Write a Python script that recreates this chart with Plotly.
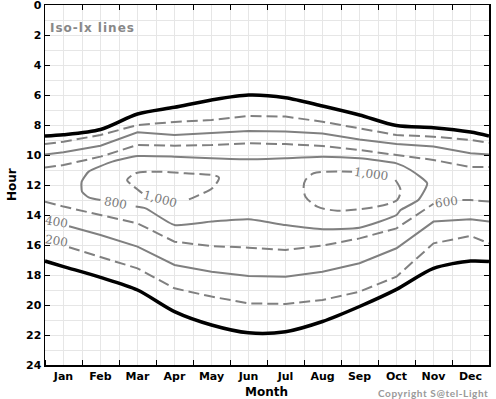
import plotly.graph_objects as go

# ---------------- data ----------------
months = ["Jan", "Feb", "Mar", "Apr", "May", "Jun", "Jul", "Aug", "Sep", "Oct", "Nov", "Dec"]
month_centers = [i + 0.5 for i in range(12)]
month_edges = list(range(13))
# month positions: year start, mid-months, year end
xm = [0, 0.5, 1.5, 2.5, 3.5, 4.5, 5.5, 6.5, 7.5, 8.5, 9.5, 10.5, 11.5, 12]

sunrise = [8.73, 8.65, 8.3, 7.27, 6.82, 6.33, 6.0, 6.18, 6.73, 7.33, 8.04, 8.18, 8.47, 8.73]
sunset = [17.07, 17.44, 18.16, 19.0, 20.44, 21.33, 21.85, 21.78, 21.1, 20.1, 18.96, 17.56, 17.07, 17.1]

lx200_am = [9.27, 9.11, 8.67, 8.0, 7.8, 7.67, 7.4, 7.44, 7.78, 8.22, 8.67, 8.78, 9.0, 9.18]
lx400_am = [9.96, 9.82, 9.38, 8.49, 8.67, 8.51, 8.4, 8.44, 8.56, 8.96, 9.27, 9.44, 9.89, 9.96]
lx600_am = [10.84, 10.67, 10.11, 9.33, 9.38, 9.33, 9.22, 9.27, 9.4, 9.67, 10.0, 10.33, 10.8, 10.8]

lx200_pm_x = [0.65, 1.5, 2.5, 3.5, 4.5, 5.5, 6.5, 7.5, 8.5, 9.5, 10.5, 11.5, 12]
lx200_pm = [16.15, 16.78, 17.56, 18.89, 19.44, 19.89, 19.93, 19.67, 19.11, 18.11, 15.89, 15.4, 15.89]
lx400_pm_x = [0.65, 1.5, 2.5, 3.5, 4.5, 5.5, 6.5, 7.5, 8.5, 9.5, 10.5, 11.5, 12]
lx400_pm = [14.75, 15.33, 16.11, 17.33, 17.78, 18.07, 18.11, 17.78, 17.22, 16.22, 14.44, 14.29, 14.44]
lx600_pm_x = [0, 0.5, 1.5, 2.5, 3.5, 4.5, 5.5, 6.5, 7.5, 8.5, 9.5, 10.5, None, 11.28, 11.5, 12]
lx600_pm = [13.11, 13.44, 14.0, 14.56, 15.78, 16.07, 16.18, 16.33, 16.04, 15.56, 14.89, 13.25, None, 13.0, 13.0, 13.1]

lx800_x = [2.45, 2.72, 3.5, 4.5, 5.5, 6.5, 7.5, 8.5, 9.5, 9.61, 10.09, 10.33, 9.88, 9.5, 8.5, 7.5,
           6.5, 5.5, 4.5, 3.5, 2.5, 1.82, 1.18, 0.99, 1.0, 1.18, 1.5]
lx800_y = [13.44, 13.56, 14.67, 14.44, 14.29, 14.67, 14.95, 14.85, 14.0, 13.67, 13.0, 11.89, 11.0, 10.56,
           10.22, 10.11, 10.22, 10.29, 10.22, 10.11, 10.07, 10.44, 11.11, 11.78, 12.44, 12.82, 13.0]

lx1000a_x = [3.89, 4.16, 4.52, 4.70, 3.80, 2.90, 2.45, 2.22, 2.4, 2.63]
lx1000a_y = [12.96, 12.67, 12.22, 11.49, 11.22, 11.11, 11.22, 11.67, 12.1, 12.55]
lx1000b_x = [9.47, 9.61, 9.52, 8.98, 7.9, 7.36, 7.04, 6.99, 7.04, 7.26, 8.3]
lx1000b_y = [11.67, 12.33, 13.0, 13.44, 13.71, 13.44, 12.78, 12.11, 11.67, 11.22, 11.11]

label_text = ["1,000", "1,000", "800", "600", "400", "200"]
label_x = [3.1, 8.8, 1.9, 10.86, 0.31, 0.31]
label_y = [12.93, 11.27, 13.23, 13.13, 14.47, 15.73]
label_angle = [15, 8, 10, -7, 10, 10]

# ---------------- figure ----------------
GRAY = "#808080"
DASH = "11px,5px"
fig = go.Figure()


def add(x, y, color=GRAY, width=2, dash="solid", shape="linear", smooth=None):
    line = dict(color=color, width=width, dash=dash, shape=shape)
    if smooth is not None:
        line["smoothing"] = smooth
    fig.add_trace(go.Scatter(x=x, y=y, mode="lines", line=line, hoverinfo="skip",
                             showlegend=False, connectgaps=False))


add(xm, lx200_am, dash=DASH)
add(xm, lx400_am)
add(xm, lx600_am, dash=DASH)
add(lx200_pm_x, lx200_pm, dash=DASH)
add(lx400_pm_x, lx400_pm)
add(lx600_pm_x, lx600_pm, dash=DASH)
add(lx800_x, lx800_y, shape="spline", smooth=0.5)
add(lx1000a_x, lx1000a_y, dash=DASH, shape="spline", smooth=0.8)
add(lx1000b_x, lx1000b_y, dash=DASH, shape="spline", smooth=0.8)
add(xm, sunrise, color="black", width=3.5, shape="spline", smooth=0.8)
add(xm, sunset, color="black", width=3.5, shape="spline", smooth=0.8)

for t, x, y, a in zip(label_text, label_x, label_y, label_angle):
    fig.add_annotation(x=x, y=y, text=t, showarrow=False, textangle=a,
                       font=dict(family="DejaVu Serif", size=12, color="#7a7a7a"))

PW, PH, L, T = 444, 360, 45, 5


def px(xp):
    return (xp - L) / PW


def py(yp):
    return (T + PH - yp) / PH


fig.add_annotation(xref="paper", yref="paper", x=px(48), y=py(27.5),
                   xanchor="left", yanchor="middle", showarrow=False,
                   text='<span style="letter-spacing:1px">Iso-lx lines</span>',
                   font=dict(family="DejaVu Sans", size=12, color="#888888", weight="bold"))
fig.add_annotation(xref="paper", yref="paper", x=px(489.5), y=py(393),
                   xanchor="right", yanchor="middle", showarrow=False,
                   text='<span style="letter-spacing:0.6px">Copyright S@tel-Light</span>',
                   font=dict(family="Lato", size=10, color="#999999", weight="bold"))

tickfont = dict(family="DejaVu Sans", size=11, color="black", weight="bold")
titlefont = dict(family="DejaVu Sans", size=12, color="black", weight="bold")
fig.add_annotation(xref="paper", yref="paper", x=px(266.5), y=py(392),
                   xanchor="center", yanchor="middle", showarrow=False,
                   text="Month", font=titlefont)
fig.add_annotation(xref="paper", yref="paper", x=px(12), y=py(185),
                   xanchor="center", yanchor="middle", showarrow=False, textangle=-90,
                   text="Hour", font=titlefont)

GRID = "#e6e6e6"

fig.update_layout(
    xaxis=dict(range=[0, 12], tickvals=month_centers, ticktext=months, ticks="",
               showgrid=True, gridcolor=GRID, gridwidth=1, zeroline=False, automargin=False,
               minor=dict(tickvals=month_edges, ticks="inside", ticklen=5,
                          tickcolor="black", tickwidth=1, showgrid=True, gridcolor=GRID),
               showline=True, linecolor="black", linewidth=1.5, mirror=True,
               tickfont=tickfont),
    xaxis2=dict(range=[0, 12], overlaying="x", side="top", tickvals=month_edges,
                ticks="inside", ticklen=5, tickcolor="black", tickwidth=1,
                showticklabels=False, showgrid=False, zeroline=False, automargin=False,
                showline=False),
    yaxis=dict(range=[24, 0], tick0=0, dtick=2, ticks="inside", ticklen=5,
               tickcolor="black", tickwidth=1, automargin=False, ticklabeloverflow="allow",
               showgrid=True, gridcolor=GRID, gridwidth=1, zeroline=False,
               minor=dict(dtick=1, showgrid=True, gridcolor=GRID, ticks=""),
               showline=True, linecolor="black", linewidth=1.5, mirror="ticks",
               tickfont=tickfont),
    width=496, height=399, margin=dict(l=L, r=496 - L - PW, t=T, b=399 - T - PH),
    paper_bgcolor="white", plot_bgcolor="white")

# invisible carrier so the top tick axis is drawn
fig.add_trace(go.Scatter(x=[None], y=[None], xaxis="x2", yaxis="y", showlegend=False,
                         hoverinfo="skip"))

fig.write_html("out.html", config={"displayModeBar": False, "staticPlot": True},
               post_script="document.body.style.margin='0';document.body.style.overflow='hidden';")
